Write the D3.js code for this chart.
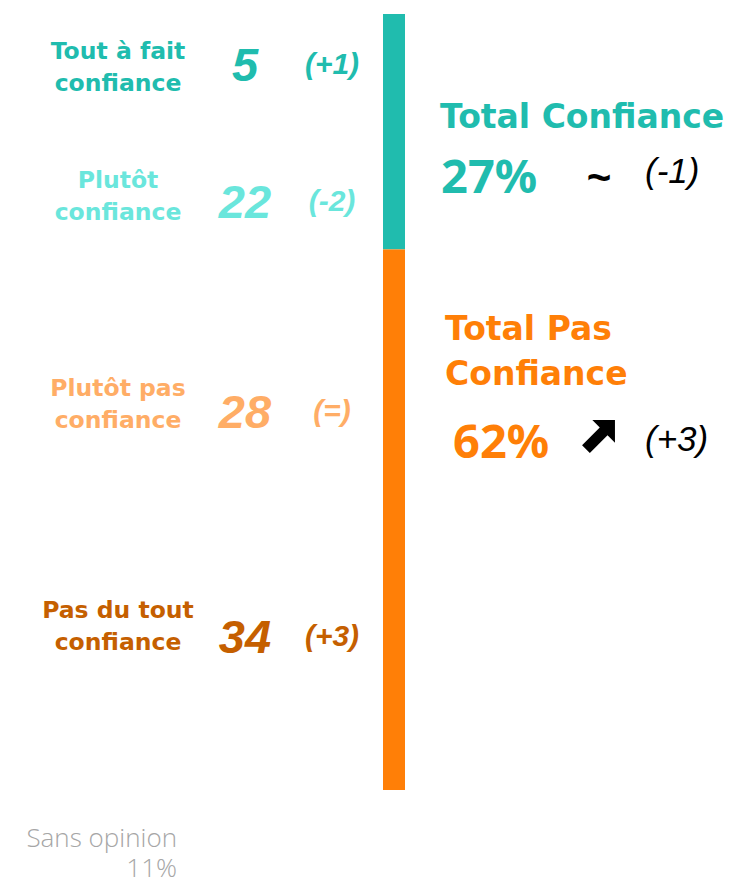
<!DOCTYPE html>
<html>
<head>
<meta charset="utf-8">
<script src="https://cdn.jsdelivr.net/npm/d3@7"></script>
<style>
	body{margin:0;background:#fff;}
	text{font-family:"DejaVu Sans",sans-serif;}
	.num{font-family:"Liberation Sans",Arial,sans-serif;font-style:italic;font-weight:bold;}
	.pct{font-family:"Noto Sans",sans-serif;font-weight:bold;}
	.trend{font-family:"Liberation Sans Narrow","Liberation Sans",Arial,sans-serif;font-style:italic;}
	.nop{font-family:"Open Sans",sans-serif;font-weight:300;}
</style>
</head>
<body>
<script>
//chart data
var categories = [["Tout à fait","confiance"],["Plutôt","confiance"],["Plutôt pas","confiance"],["Pas du tout","confiance"]];
var values = [5, 22, 28, 34];
var changes = ["(+1)", "(-2)", "(=)", "(+3)"];
var colors = ["#20bcae", "#6ae6dc", "#ffad66", "#c55f00"];

var totalLabels = [["Total Confiance"],["Total Pas","Confiance"]];
var totalValues = [27, 62];
var totalChanges = ["(-1)", "(+3)"];
var totalTrends = ["~", "up"];
var totalColors = ["#20bcae", "#ff7f07"];

var noOpinionLabel = "Sans opinion";
var noOpinionValue = 11;

window.onload = setChart();

function setChart(){
	var width = 732,
		height = 885;

	var svg = d3.select("body")
		.append("svg")
		.attr("width", width)
		.attr("height", height);

	//vertical scale for the stacked bar (totals)
	var y = d3.scaleLinear()
		.domain([0, d3.sum(totalValues)])
		.range([14, 790]);

	var barX = 383,
		barW = 22;

	//stack the totals
	var stacked = [];
	var acc = 0;
	for (var i=0; i<totalValues.length; i++){
		stacked.push({start: acc, end: acc + totalValues[i], color: totalColors[i]});
		acc += totalValues[i];
	}

	svg.selectAll(".bar")
		.data(stacked)
		.enter()
		.append("rect")
		.attr("class","bar")
		.attr("x", barX)
		.attr("width", barW)
		.attr("y", function(d){ return y(d.start); })
		.attr("height", function(d){ return y(d.end) - y(d.start); })
		.style("fill", function(d){ return d.color; });

	//category rows (baseline of first label line)
	var rowY = [59, 188, 396, 618];
	var numDy = [22, 30, 32, 35];
	var chgDy = [15, 23, 25, 28];

	var rows = svg.selectAll(".row")
		.data(categories)
		.enter()
		.append("g")
		.attr("class","row")
		.attr("transform", function(d,i){ return "translate(0," + rowY[i] + ")"; });

	rows.each(function(d,i){
		var g = d3.select(this);
		g.append("text")
			.attr("x", 118)
			.attr("text-anchor","middle")
			.style("font-size","23.5px")
			.style("font-weight","bold")
			.style("fill", colors[i])
			.selectAll("tspan")
			.data(d)
			.enter()
			.append("tspan")
			.attr("x", 118)
			.attr("dy", function(t,j){ return j ? 31.5 : 0; })
			.text(function(t){ return t; });

		g.append("text")
			.attr("class","num")
			.attr("x", 245)
			.attr("y", numDy[i])
			.attr("text-anchor","middle")
			.style("font-size","47px")
			.style("fill", colors[i])
			.text(values[i]);

		g.append("text")
			.attr("class","num")
			.attr("x", 332)
			.attr("y", chgDy[i])
			.attr("text-anchor","middle")
			.style("font-size","30px")
			.style("fill", colors[i])
			.text(changes[i]);
	});

	//totals on the right
	var totY = [128, 340];
	var totX = [440, 445];
	var pctY = [193, 458];
	var pctX = [441, 453];
	var chgY = [183, 451];

	totalLabels.forEach(function(lines,i){
		svg.append("text")
			.style("font-size","33px")
			.style("font-weight","bold")
			.style("fill", totalColors[i])
			.selectAll("tspan")
			.data(lines)
			.enter()
			.append("tspan")
			.attr("x", totX[i])
			.attr("y", function(t,j){ return totY[i] + j*45; })
			.text(function(t){ return t; });

		svg.append("text")
			.attr("class","pct")
			.attr("x", pctX[i])
			.attr("y", pctY[i])
			.style("font-size","47px")
			.style("fill", totalColors[i])
			.text(totalValues[i] + "%");

		svg.append("text")
			.attr("class","trend")
			.attr("x", 645)
			.attr("y", chgY[i])
			.style("font-size","35px")
			.style("fill","#000")
			.text(totalChanges[i]);

		if (totalTrends[i] == "~"){
			svg.append("text")
				.attr("x", 599)
				.attr("y", 192)
				.attr("text-anchor","middle")
				.style("font-family","'Liberation Sans',Arial,sans-serif")
				.style("font-size","42px")
				.style("font-weight","bold")
				.style("fill","#000")
				.text("~");
		} else {
			//thick north-east arrow
			svg.append("path")
				.attr("transform","translate(599.4,435.6) rotate(-45)")
				.attr("d","M-19,-5.5 L6,-5.5 L6,-16 L22,0 L6,16 L6,5.5 L-19,5.5 Z")
				.style("fill","#000");
		}
	});

	//sans opinion (two lines in one text)
	svg.append("text")
		.attr("class","nop")
		.attr("text-anchor","end")
		.style("font-size","26px")
		.style("fill","#a6a6a6")
		.selectAll("tspan")
		.data([noOpinionLabel, noOpinionValue + "%"])
		.enter()
		.append("tspan")
		.attr("x", 177)
		.attr("y", function(t,j){ return 847 + j*30; })
		.text(function(t){ return t; });
}
</script>
</body>
</html>
